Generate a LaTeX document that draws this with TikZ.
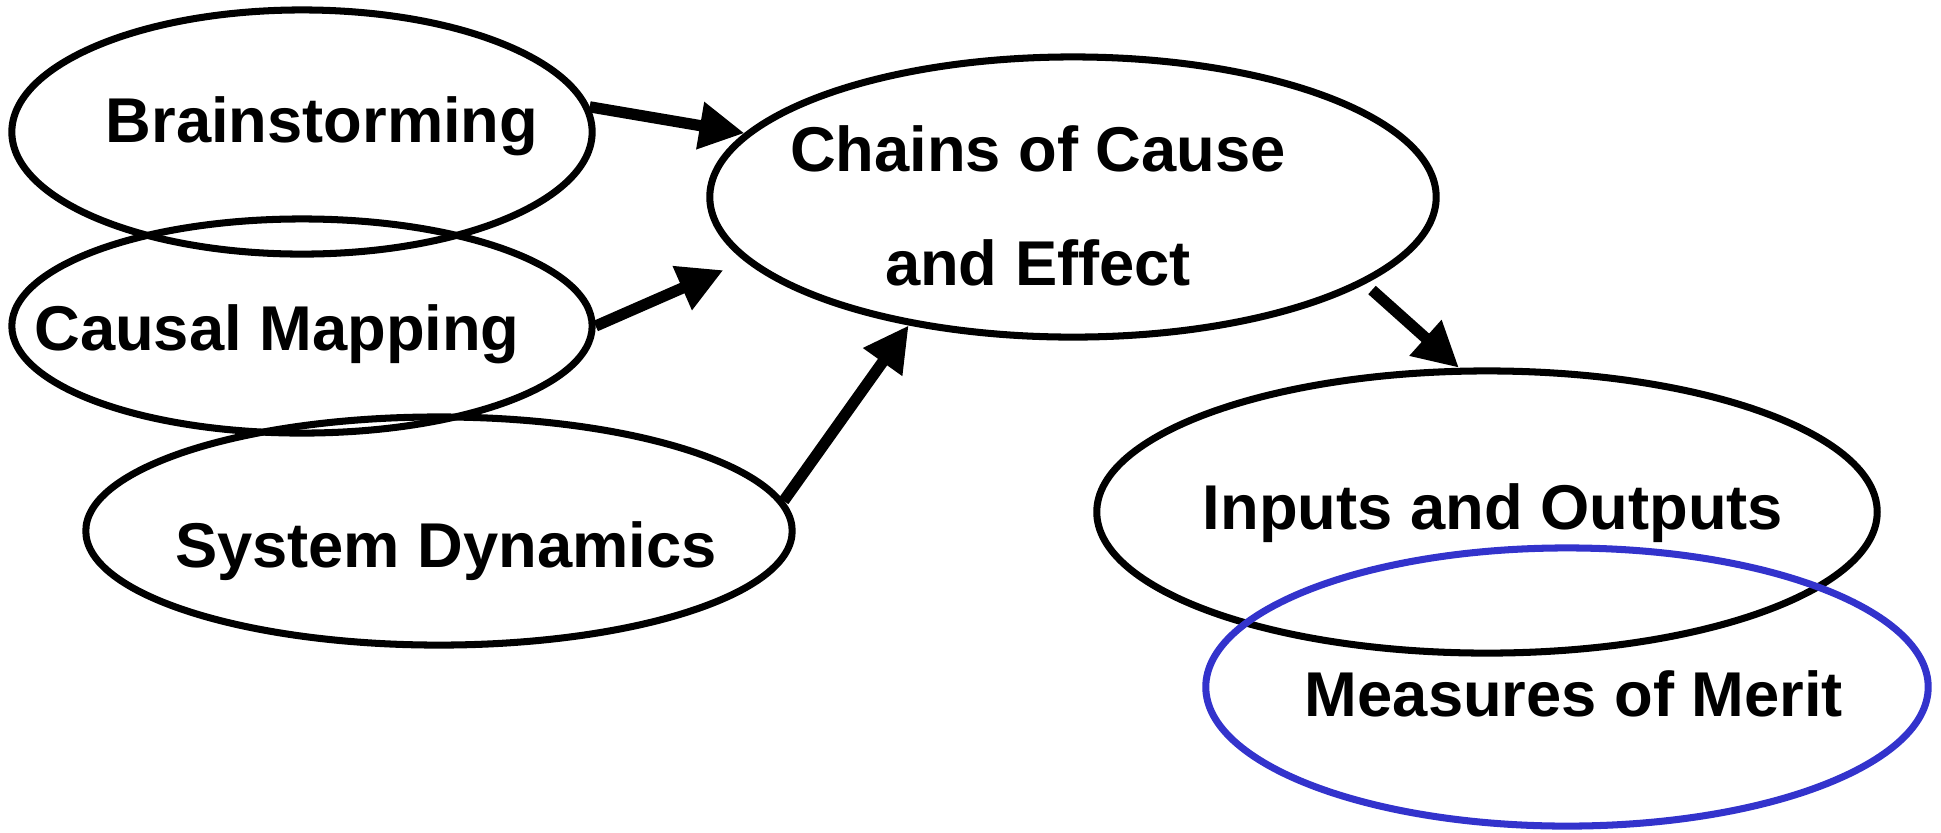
\documentclass[tikz,border=0pt]{standalone}
\usepackage{fontspec}
\setmainfont{Liberation Sans}
\usetikzlibrary{shapes.geometric,arrows.meta}
\definecolor{meritblue}{RGB}{51,51,204}

\begin{document}
\begin{tikzpicture}[x=0.01cm,y=-0.01cm,
  bubble/.style={draw,ellipse,line width=2pt,inner sep=0pt},
  txt/.style={anchor=base,font=\fontsize{18}{22}\selectfont\bfseries},
  link/.style={line width=3.2pt,-{Triangle[length=0.45cm,width=0.45cm]}}]
\useasboundingbox (0,0) rectangle (1941,832);

 \node[bubble,minimum width=5.8cm,minimum height=2.44cm] (brain) at (302,132) {};
 \node[bubble,minimum width=5.8cm,minimum height=2.14cm] (causal) at (302,326) {};
 \node[bubble,minimum width=7.06cm,minimum height=2.28cm] (sysdyn) at (439,531) {};
 \node[bubble,minimum width=7.26cm,minimum height=2.8cm] (chains) at (1073,197) {};
 \node[bubble,minimum width=7.8cm,minimum height=2.82cm] (inout) at (1487,512) {};
 \node[bubble,draw=meritblue,minimum width=7.22cm,minimum height=2.78cm] (merit) at (1567,687) {};

 \node[txt] (braintxt) at (322,142) {Brainstorming};
 \node[txt] (causaltxt) at (277,350) {Causal Mapping};
 \node[txt] (sysdyntxt) at (446,567) {System Dynamics};
 \node[txt] (chainstxt) at (1038,171) {Chains of Cause};
 \node[txt] (effecttxt) at (1038,285) {and Effect};
 \node[txt] (inouttxt) at (1493,529) {Inputs and Outputs};
 \node[txt] (merittxt) at (1574,716) {Measures of Merit};

 \coordinate (chainsout) at (1372,290);
 \draw[link] (brain.5)--(chains.169);
 \draw[link,shorten >=0.23cm] (causal.0)--(chains.191);
 \draw[link] (sysdyn.5)--(chains.218);
 \draw[link] (chainsout)--(inout.101);
\end{tikzpicture}
\end{document}
